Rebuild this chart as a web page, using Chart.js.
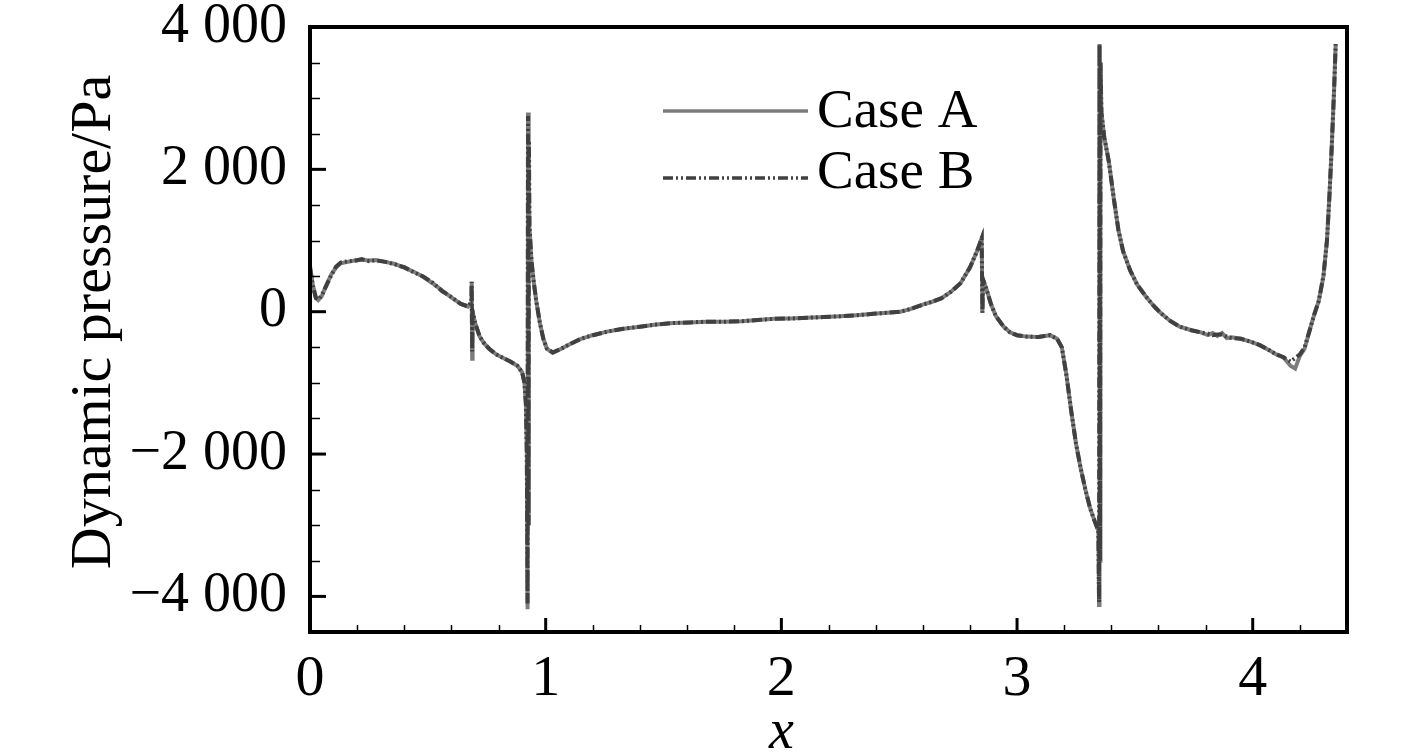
<!DOCTYPE html>
<html>
<head>
<meta charset="utf-8">
<script src="https://cdn.jsdelivr.net/npm/chart.js@4/dist/chart.umd.min.js"></script>
<style>
  html, body { margin: 0; padding: 0; background: #fff; }
  canvas { display: block; }
</style>
</head>
<body>
<canvas id="chart" width="1417" height="754"></canvas>
<script>
// Shared x positions for both cases
const xVals = [
  0.000, 0.012, 0.025, 0.035, 0.050, 0.070, 0.090, 0.110, 0.130, 0.160,
  0.190, 0.220, 0.250, 0.280, 0.320, 0.360, 0.400, 0.440, 0.480, 0.520,
  0.560, 0.600, 0.640, 0.670, 0.684, 0.686, 0.688, 0.690, 0.700, 0.720,
  0.740, 0.760, 0.790, 0.820, 0.850, 0.880, 0.900, 0.910, 0.916, 0.920,
  0.923, 0.925, 0.927, 0.929, 0.931, 0.940, 0.950, 0.960, 0.975, 0.990,
  1.005, 1.030, 1.060, 1.100, 1.150, 1.200, 1.260, 1.330, 1.400, 1.470,
  1.540, 1.610, 1.685, 1.760, 1.830, 1.900, 1.970, 2.040, 2.110, 2.180,
  2.250, 2.320, 2.390, 2.450, 2.505, 2.550, 2.600, 2.640, 2.680, 2.720,
  2.760, 2.800, 2.830, 2.850, 2.853, 2.856, 2.870, 2.890, 2.910, 2.943,
  2.970, 3.000, 3.040, 3.090, 3.140, 3.170, 3.190, 3.210, 3.230, 3.250,
  3.270, 3.290, 3.310, 3.330, 3.345, 3.348, 3.350, 3.352, 3.354, 3.358,
  3.370, 3.390, 3.410, 3.430, 3.450, 3.480, 3.510, 3.545, 3.580, 3.610,
  3.650, 3.690, 3.740, 3.780, 3.810, 3.830, 3.850, 3.870, 3.890, 3.910,
  3.950, 3.990, 4.030, 4.070, 4.100, 4.130, 4.160, 4.180, 4.200, 4.220,
  4.240, 4.260, 4.280, 4.300, 4.315, 4.325, 4.335, 4.345, 4.352
];

const caseA = [
  640, 380, 200, 165, 220, 380, 520, 620, 680, 700,
  720, 730, 720, 725, 700, 670, 620, 560, 490, 400,
  300, 200, 110, 70, 120, 420, -660, 0, -150, -350,
  -450, -520, -600, -650, -700, -760, -850, -1000, -1300, -2000,
  -4180, 2800, -3000, 2400, 1200, 700, 400, 150, -150, -380,
  -520, -580, -530, -460, -380, -330, -280, -240, -210, -180,
  -160, -150, -140, -140, -135, -115, -100, -95, -85, -75,
  -65, -50, -30, -15, 0, 40, 100, 140, 190, 280,
  400, 620, 850, 1030, -15, 450, 320, 100, -60, -210,
  -290, -330, -350, -355, -330, -380, -500, -900, -1400, -1850,
  -2200, -2500, -2760, -2950, -3080, -4120, 3760, -3500, 3500, 2800,
  2450, 2100, 1600, 1150, 850, 580, 380, 220, 80, -20,
  -130, -210, -260, -290, -330, -300, -340, -300, -370, -360,
  -380, -420, -470, -540, -600, -640, -760, -800, -620, -520,
  -280, -50, 150, 500, 1000, 1600, 2300, 3100, 3760
];

const caseB = [
  620, 360, 190, 170, 230, 370, 510, 630, 690, 710,
  715, 740, 710, 720, 700, 665, 625, 555, 495, 410,
  290, 205, 110, 75, 130, 420, -560, 0, -150, -350,
  -450, -520, -600, -650, -700, -760, -850, -1000, -1300, -2000,
  -4100, 2750, -3000, 2400, 1200, 700, 400, 150, -150, -380,
  -520, -570, -530, -460, -380, -330, -280, -240, -210, -180,
  -160, -150, -140, -140, -135, -115, -100, -95, -85, -75,
  -65, -50, -30, -15, 0, 40, 100, 140, 190, 280,
  400, 620, 850, 1030, -15, 450, 320, 100, -60, -210,
  -290, -330, -350, -355, -330, -380, -500, -900, -1400, -1850,
  -2200, -2500, -2760, -2950, -3080, -4080, 3760, -3500, 3500, 2800,
  2450, 2100, 1600, 1150, 850, 580, 380, 220, 80, -20,
  -130, -210, -260, -290, -310, -330, -320, -320, -350, -370,
  -380, -420, -470, -540, -600, -640, -700, -650, -600, -500,
  -280, -50, 150, 500, 1000, 1600, 2300, 3100, 3760
];

const yTickVals = [-4000, -2000, 0, 2000, 4000];
const xTickVals = [0, 1, 2, 3, 4];
const yMinorStep = 500;
const xMinorStep = 0.2;

const FONT = 'Liberation Serif';

function fmt(v) {
  const s = Math.abs(v).toString().replace(/\B(?=(\d{3})+(?!\d))/g, ' ');
  return (v < 0 ? '\u2212' : '') + s;
}

// frame, inward ticks, axis titles and legend
const decor = {
  id: 'decor',
  afterDraw(chart) {
    const { ctx, chartArea: a, scales } = chart;
    const xs = scales.x, ys = scales.y;
    ctx.save();
    ctx.strokeStyle = '#000';
    ctx.lineCap = 'butt';

    // minor ticks
    ctx.lineWidth = 1.5;
    for (let v = -4500; v <= 4000; v += yMinorStep) {
      if (v % 2000 === 0) continue;
      const py = Math.round(ys.getPixelForValue(v)) + 0.5;
      ctx.beginPath(); ctx.moveTo(a.left, py); ctx.lineTo(a.left + 10, py); ctx.stroke();
    }
    for (let i = 1; i <= 21; i++) {
      const v = i * xMinorStep;
      if (i % 5 === 0) continue;
      const px = Math.round(xs.getPixelForValue(v)) + 0.5;
      ctx.beginPath(); ctx.moveTo(px, a.bottom); ctx.lineTo(px, a.bottom - 7); ctx.stroke();
    }

    // major ticks
    ctx.lineWidth = 3;
    yTickVals.forEach(v => {
      const py = ys.getPixelForValue(v);
      ctx.beginPath(); ctx.moveTo(a.left, py); ctx.lineTo(a.left + 16, py); ctx.stroke();
    });
    xTickVals.forEach(v => {
      const px = xs.getPixelForValue(v);
      ctx.beginPath(); ctx.moveTo(px, a.bottom); ctx.lineTo(px, a.bottom - 14); ctx.stroke();
    });

    // frame
    ctx.lineWidth = 4;
    ctx.strokeRect(a.left, a.top, a.right - a.left, a.bottom - a.top);

    // axis titles
    ctx.fillStyle = '#000';
    ctx.textAlign = 'center';
    ctx.textBaseline = 'alphabetic';
    ctx.font = 'italic 56px "' + FONT + '"';
    ctx.fillText('x', xs.getPixelForValue(2), 748);

    ctx.save();
    ctx.translate(110, 322);
    ctx.rotate(-Math.PI / 2);
    ctx.font = '58px "' + FONT + '"';
    ctx.fillText('Dynamic pressure/Pa', 0, 0);
    ctx.restore();

    // legend
    ctx.lineWidth = 3.5;
    ctx.strokeStyle = '#7c7c7c';
    ctx.setLineDash([]);
    ctx.beginPath(); ctx.moveTo(663, 111); ctx.lineTo(808, 111); ctx.stroke();
    ctx.strokeStyle = '#404040';
    ctx.setLineDash([10, 3, 2, 3, 2, 3]);
    ctx.beginPath(); ctx.moveTo(663, 178); ctx.lineTo(808, 178); ctx.stroke();
    ctx.setLineDash([]);
    ctx.textAlign = 'left';
    ctx.font = '55px "' + FONT + '"';
    ctx.fillText('Case A', 817, 127);
    ctx.fillText('Case B', 817, 188);
    ctx.restore();
  }
};

const ctx = document.getElementById('chart').getContext('2d');
new Chart(ctx, {
  type: 'scatter',
  data: {
    datasets: [
      {
        label: 'Case B',
        data: xVals.map((x, i) => ({ x, y: caseB[i] })),
        showLine: true,
        borderColor: '#404040',
        borderWidth: 4,
        borderDash: [10, 3, 2, 3, 2, 3],
        pointRadius: 0,
        order: 0
      },
      {
        label: 'Case A',
        data: xVals.map((x, i) => ({ x, y: caseA[i] })),
        showLine: true,
        borderColor: '#7c7c7c',
        borderWidth: 4,
        pointRadius: 0,
        order: 1
      }
    ]
  },
  options: {
    responsive: false,
    animation: false,
    devicePixelRatio: 1,
    layout: { padding: { top: 27, right: 70, left: 0, bottom: 0 } },
    plugins: {
      legend: { display: false },
      tooltip: { enabled: false }
    },
    scales: {
      x: {
        type: 'linear',
        min: 0,
        max: 4.4,
        afterBuildTicks: s => { s.ticks = xTickVals.map(v => ({ value: v })); },
        afterFit: s => { s.height = 122; s.paddingLeft = 0; s.paddingRight = 0; },
        grid: { display: false, drawTicks: false },
        border: { display: false },
        ticks: {
          color: '#000',
          padding: 13,
          maxRotation: 0,
          font: { family: FONT, size: 58 },
          callback: v => String(v)
        }
      },
      y: {
        type: 'linear',
        min: -4500,
        max: 4000,
        afterBuildTicks: s => { s.ticks = yTickVals.map(v => ({ value: v })); },
        afterFit: s => { s.width = 310; s.paddingTop = 0; s.paddingBottom = 0; },
        grid: { display: false, drawTicks: false },
        border: { display: false },
        ticks: {
          color: '#000',
          padding: 23,
          font: { family: FONT, size: 56 },
          callback: v => fmt(v)
        }
      }
    }
  },
  plugins: [decor]
});
</script>
</body>
</html>
